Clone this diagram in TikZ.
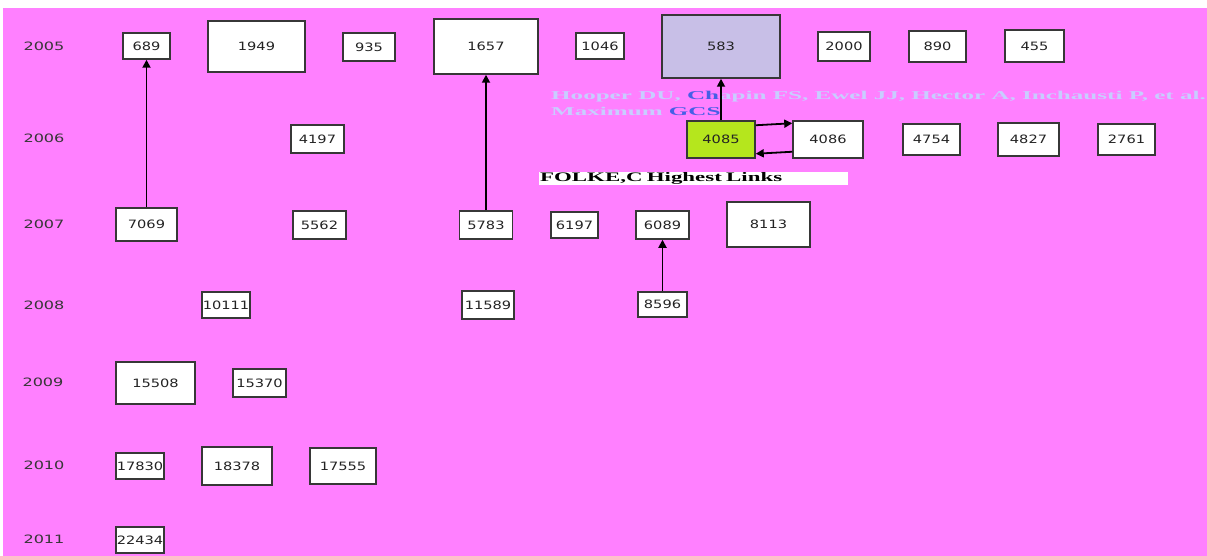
\documentclass[tikz,border=0pt]{standalone}
\usepackage{fontspec}
\usetikzlibrary{arrows.meta}

\newfontfamily\numfont[FakeStretch=1.27]{DejaVu Sans}
\newfontfamily\yearfont[FakeStretch=1.4]{DejaVu Sans}
\newfontfamily\citefont[FakeStretch=2.09]{Liberation Serif}
\newfontfamily\linkfont[FakeStretch=1.76]{Liberation Serif}

\definecolor{bgpink}{RGB}{255,128,255}
\definecolor{boxline}{RGB}{55,55,55}
\definecolor{numtext}{RGB}{35,35,35}
\definecolor{lime}{RGB}{181,230,29}
\definecolor{lavender}{RGB}{200,191,231}
\definecolor{citelight}{RGB}{200,205,255}
\definecolor{citedark}{RGB}{70,95,230}

\begin{document}
\begin{tikzpicture}[x=1pt, y=-1pt,
    paper/.style={draw=boxline, fill=white, line width=1.5pt, inner sep=0pt,
        text=numtext, font=\numfont\fontsize{11.5}{13}\selectfont},
    year/.style={text=boxline, inner sep=0pt, font=\yearfont\fontsize{11.5}{13}\selectfont},
    link/.style={-{Triangle[width=8pt,length=8pt]}, line width=1.8pt}]
    \useasboundingbox (0,0) rectangle (1207,556);
    \fill[bgpink] (3,8) rectangle (1207,556);

    \node[year] (y2005) at (44,46) {2005};
    \node[year] (y2006) at (44,138) {2006};
    \node[year] (y2007) at (44,224) {2007};
    \node[year] (y2008) at (44,305) {2008};
    \node[year] (y2009) at (43,382) {2009};
    \node[year] (y2010) at (44,465) {2010};
    \node[year] (y2011) at (44,539) {2011};

    \node[paper, minimum width=47pt, minimum height=26pt] (p689) at (146.5,46) {689};
    \node[paper, minimum width=97pt, minimum height=51pt] (p1949) at (256.5,46.5) {1949};
    \node[paper, minimum width=52pt, minimum height=28pt] (p935) at (369,47) {935};
    \node[paper, minimum width=104pt, minimum height=55pt] (p1657) at (486,46.5) {1657};
    \node[paper, minimum width=48pt, minimum height=26pt] (p1046) at (600,46) {1046};
    \node[paper, fill=lavender, minimum width=118pt, minimum height=63pt] (p583) at (721,46.5) {583};
    \node[paper, minimum width=52pt, minimum height=29pt] (p2000) at (844,46.5) {2000};
    \node[paper, minimum width=57pt, minimum height=31pt] (p890) at (937.5,46.5) {890};
    \node[paper, minimum width=59pt, minimum height=32pt] (p455) at (1034.5,46) {455};

    \node[paper, minimum width=53pt, minimum height=28pt] (p4197) at (317.5,139) {4197};
    \node[paper, fill=lime, minimum width=68pt, minimum height=37pt] (p4085) at (721,139.5) {4085};
    \node[paper, minimum width=70pt, minimum height=37pt] (p4086) at (828,139.5) {4086};
    \node[paper, minimum width=57pt, minimum height=31pt] (p4754) at (931.5,139.5) {4754};
    \node[paper, minimum width=61pt, minimum height=33pt] (p4827) at (1028.5,139.5) {4827};
    \node[paper, minimum width=57pt, minimum height=31pt] (p2761) at (1126.5,139.5) {2761};

    \node[paper, minimum width=61pt, minimum height=33pt] (p7069) at (146.5,224.5) {7069};
    \node[paper, minimum width=53pt, minimum height=28pt] (p5562) at (319.5,225) {5562};
    \node[paper, minimum width=53pt, minimum height=28pt] (p5783) at (486,225) {5783};
    \node[paper, minimum width=47pt, minimum height=26pt] (p6197) at (574.5,225) {6197};
    \node[paper, minimum width=53pt, minimum height=28pt] (p6089) at (662.5,225) {6089};
    \node[paper, minimum width=83pt, minimum height=45pt] (p8113) at (768.5,224.5) {8113};

    \node[paper, minimum width=48pt, minimum height=26pt] (p10111) at (226,305) {10111};
    \node[paper, minimum width=52pt, minimum height=28pt] (p11589) at (488,305) {11589};
    \node[paper, minimum width=49pt, minimum height=25pt] (p8596) at (662.5,304.5) {8596};

    \node[paper, minimum width=79pt, minimum height=42pt] (p15508) at (155.5,383) {15508};
    \node[paper, minimum width=53pt, minimum height=28pt] (p15370) at (259.5,383) {15370};

    \node[paper, minimum width=48pt, minimum height=26pt] (p17830) at (140,466) {17830};
    \node[paper, minimum width=70pt, minimum height=38pt] (p18378) at (237,466) {18378};
    \node[paper, minimum width=66pt, minimum height=36pt] (p17555) at (343,466) {17555};

    \node[paper, minimum width=48pt, minimum height=26pt] (p22434) at (140,540) {22434};

    \node[anchor=base west, inner sep=0pt, text=citelight,
        font=\citefont\bfseries\fontsize{12}{14}\selectfont] (hooper) at (551,100)
        {Hooper DU, \textcolor{citedark}{Ch}apin FS, Ewel JJ, Hector A, Inchausti P, et al.};
    \node[anchor=base west, inner sep=0pt, text=citelight,
        font=\citefont\bfseries\fontsize{12}{14}\selectfont] (maxgcs) at (551,116)
        {Maximum \textcolor{citedark}{GCS}};
    \node[anchor=west, fill=white, inner xsep=1pt, inner ysep=0pt, minimum height=13pt,
        text width=307pt, align=left,
        font=\linkfont\bfseries\fontsize{13}{13}\selectfont] (folke) at (539,178.5)
        {FOLKE,C Highest Links};

    %%%%%%%%%%%%%%%%%%%%%%%%%%%%%%%%%%%%%%%%

    \draw[link] (p7069) -- (p689);
    \draw[link] (p5783) -- (p1657);
    \draw[link] (p8596) -- (p6089);
    \draw[link] (p4085) -- (p583);
    \draw[link] ([yshift=-5pt]p4085.north east) -- ([yshift=-3pt]p4086.north west);
    \draw[link] ([yshift=7pt]p4086.south west) -- ([yshift=5pt]p4085.south east);

\end{tikzpicture}
\end{document}
